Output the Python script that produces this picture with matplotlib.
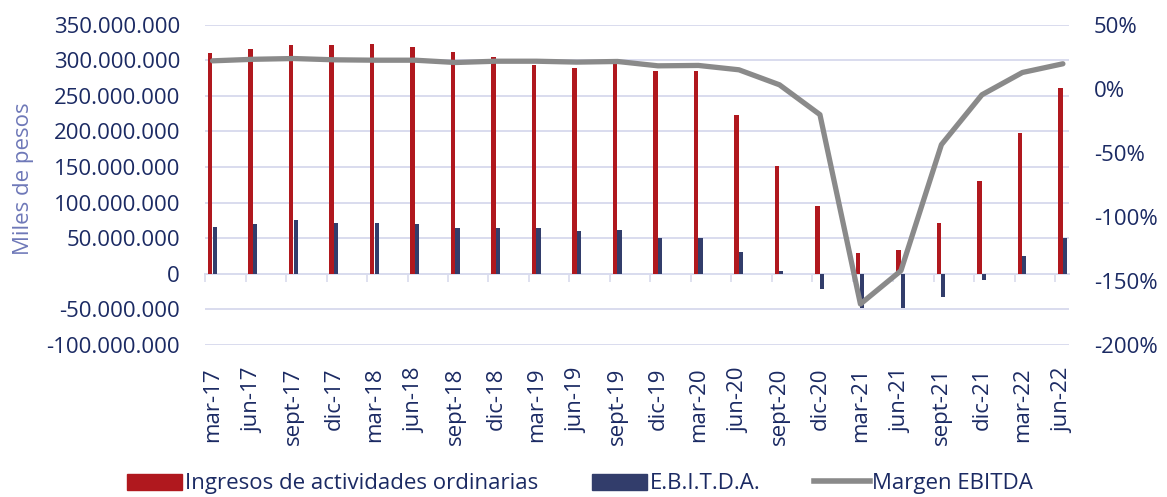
import numpy as np
import matplotlib
matplotlib.use("Agg")
import matplotlib.pyplot as plt
from matplotlib.patches import Patch
from matplotlib.lines import Line2D
from matplotlib.ticker import FuncFormatter

# Data
periods = ["mar-17", "jun-17", "sept-17", "dic-17", "mar-18", "jun-18", "sept-18", "dic-18",
           "mar-19", "jun-19", "sept-19", "dic-19", "mar-20", "jun-20", "sept-20", "dic-20",
           "mar-21", "jun-21", "sept-21", "dic-21", "mar-22", "jun-22"]
ingresos = [310e6, 316e6, 322e6, 321e6, 323e6, 319e6, 312e6, 304e6,
            293e6, 289e6, 296e6, 285e6, 285e6, 223e6, 152e6, 96e6,
            29e6, 34e6, 71e6, 131e6, 198e6, 261e6]
ebitda = [66e6, 70e6, 75e6, 71e6, 71e6, 70e6, 64e6, 65e6,
          64e6, 60e6, 62e6, 51e6, 50e6, 31e6, 4e6, -21e6,
          -48e6, -48e6, -33e6, -9e6, 25e6, 50e6]
margen = [21.8, 23.0, 23.6, 22.6, 22.3, 22.3, 20.5, 21.5,
          21.5, 20.8, 21.3, 17.9, 18.2, 14.8, 3.1, -20.2,
          -168.0, -142.0, -43.6, -4.7, 12.7, 19.5]

TEXT = "#1B2A63"
RED = "#B0181E"
NAVY = "#323D6B"
GRAY = "#8A8A8A"
GRID = "#D9DCEE"

plt.rcParams["font.family"] = ["Open Sans", "DejaVu Sans"]

fig = plt.figure(figsize=(11.67, 4.97), dpi=100)
ax = fig.add_axes([0.1757, 0.3058, 0.7403, 0.6445])

x = np.arange(len(periods))
ax.bar(x - 0.06, ingresos, width=0.11, color=RED, zorder=2)
ax.bar(x + 0.05, ebitda, width=0.10, color=NAVY, zorder=2)

ax.set_ylim(-100e6, 350e6)
ax.set_yticks(np.arange(-100e6, 350e6 + 1, 50e6))
ax.yaxis.set_major_formatter(FuncFormatter(lambda v, p: f"{int(round(v)):,}".replace(",", ".")))
ax.set_xlim(-0.185, 21.15)
ax.set_xticks(x)
ax.set_xticklabels(periods, rotation=90)
ax.grid(axis="y", color=GRID, linewidth=1.4)
ax.set_axisbelow(True)
ax.tick_params(axis="y", length=0, pad=18, labelsize=16, labelcolor=TEXT)
ax.tick_params(axis="x", length=0, pad=16, labelsize=16, labelcolor=TEXT)
for s in ax.spines.values():
    s.set_visible(False)

# category axis with tick marks at zero
sec = ax.secondary_xaxis(100 / 450)
sec.set_xticks(np.arange(len(periods)) - 0.185)
sec.set_xticklabels([])
sec.tick_params(axis="x", direction="out", length=6, width=1.2, color=GRID)
sec.spines["bottom"].set_color(GRID)
sec.spines["bottom"].set_linewidth(1.4)
sec.spines["top"].set_visible(False)

ax2 = ax.twinx()
ax2.plot(x, margen, color=GRAY, linewidth=3.8, solid_capstyle="round", solid_joinstyle="round", zorder=3)
ax2.set_ylim(-200, 50)
ax2.set_yticks(np.arange(-200, 51, 50))
ax2.yaxis.set_major_formatter(FuncFormatter(lambda v, p: f"{int(v)}%"))
ax2.tick_params(axis="y", length=0, pad=18, labelsize=16, labelcolor=TEXT)
for s in ax2.spines.values():
    s.set_visible(False)

fig.text(0.02, 0.64, "Miles de pesos", rotation=90, ha="center", va="center",
         fontsize=16, color="#6E78B8")

handles = [Patch(color=RED), Patch(color=NAVY), Line2D([0], [0], color=GRAY, linewidth=4)]
labels = ["Ingresos de actividades ordinarias", "E.B.I.T.D.A.", "Margen EBITDA"]
fig.legend(handles, labels, loc="lower center", bbox_to_anchor=(0.497, -0.035), ncol=3,
           frameon=False, fontsize=16, labelcolor=TEXT, handlelength=2.5,
           handleheight=0.75, handletextpad=0.12, columnspacing=2.4)

fig.savefig("out.png", dpi=100)
